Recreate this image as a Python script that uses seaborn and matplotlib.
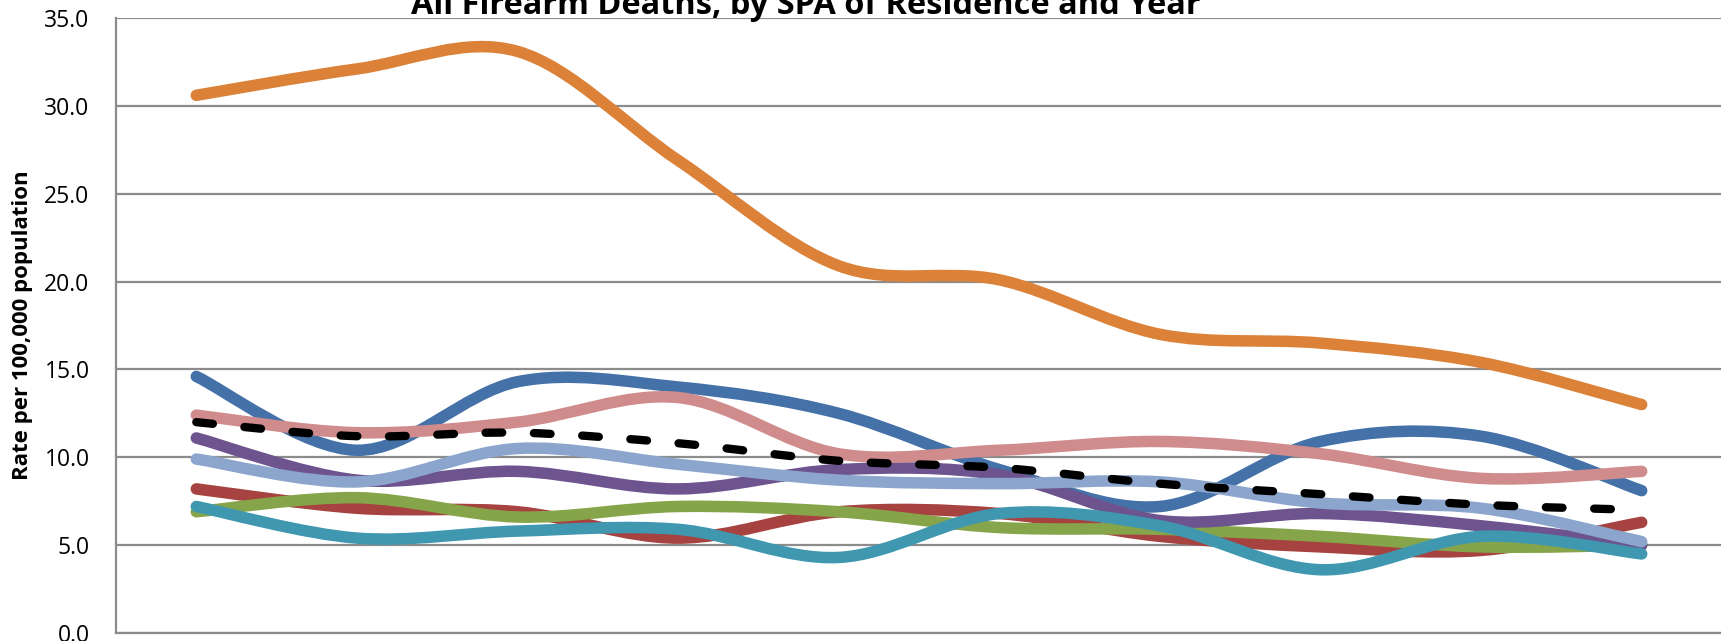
"""
plot.py - All firearm deaths by SPA of residence and year (smoothed Excel-style lines).
"""

import numpy as np
import pandas as pd
import matplotlib
matplotlib.use("Agg")
import matplotlib.pyplot as plt
from matplotlib.path import Path
from matplotlib.patches import PathPatch
import seaborn as sns

# --- data (rate per 100,000 population) ---
years = [2001, 2002, 2003, 2004, 2005, 2006, 2007, 2008, 2009, 2010]
spa1_antelope = [14.6, 10.4, 14.3, 14.0, 12.5, 9.3, 7.2, 10.9, 11.2, 8.1]
spa2_sanfernando = [8.2, 7.1, 6.9, 5.4, 6.9, 6.8, 5.5, 4.9, 4.7, 6.3]
spa3_sangabriel = [6.9, 7.7, 6.6, 7.2, 6.9, 6.0, 5.9, 5.5, 4.9, 5.0]
spa4_metro = [11.1, 8.7, 9.2, 8.2, 9.3, 9.0, 6.4, 6.8, 6.1, 5.0]
spa5_west = [7.2, 5.4, 5.8, 5.9, 4.3, 6.8, 6.1, 3.6, 5.5, 4.5]
spa6_south = [30.6, 32.1, 33.1, 26.9, 20.9, 20.1, 17.0, 16.5, 15.4, 13.0]
spa7_east = [9.9, 8.6, 10.5, 9.6, 8.7, 8.5, 8.6, 7.4, 7.1, 5.2]
spa8_southbay = [12.4, 11.4, 12.0, 13.4, 10.2, 10.4, 10.9, 10.2, 8.8, 9.2]
la_county = [12.0, 11.2, 11.4, 10.8, 9.8, 9.4, 8.5, 7.9, 7.3, 7.0]

series_names = ["SPA 1", "SPA 2", "SPA 3", "SPA 4", "SPA 5",
                "SPA 6", "SPA 7", "SPA 8", "LA County"]
series_values = [spa1_antelope, spa2_sanfernando, spa3_sangabriel, spa4_metro,
                 spa5_west, spa6_south, spa7_east, spa8_southbay, la_county]
colors = ["#4471A8", "#A6423F", "#86A54A", "#6D548E", "#3F97B0",
          "#DB8138", "#8CA5CC", "#D08C8C", "#000000"]

df = pd.DataFrame({name: vals for name, vals in zip(series_names, series_values)})
df["year"] = years
long_df = df.melt(id_vars="year", var_name="area", value_name="rate")


def smooth_path(xs, ys):
    # Excel-like smoothing: cubic Bezier segments with Catmull-Rom control points
    pts = np.column_stack([xs, ys]).astype(float)
    ext = np.vstack([pts[0], pts, pts[-1]])
    verts = [tuple(pts[0])]
    codes = [Path.MOVETO]
    for i in range(len(pts) - 1):
        p0, p1, p2, p3 = ext[i], ext[i + 1], ext[i + 2], ext[i + 3]
        c1 = p1 + (p2 - p0) / 6.0
        c2 = p2 - (p3 - p1) / 6.0
        verts += [tuple(c1), tuple(c2), tuple(p2)]
        codes += [Path.CURVE4] * 3
    return Path(verts, codes)


def fit_width(txt, target_px, renderer, vertical=False):
    # scale a text's font so that its drawn length matches the reference
    bb = txt.get_window_extent(renderer)
    cur = bb.height if vertical else bb.width
    txt.set_fontsize(txt.get_fontsize() * target_px / cur)


sns.set_theme(style="white")
plt.rcParams["font.family"] = ["Open Sans", "DejaVu Sans"]

W, H = 1721, 641
fig = plt.figure(figsize=(W / 100, H / 100), dpi=100)
ax = fig.add_axes([116 / W, 8 / H, 1606 / W, 615 / H])

grid_col = "#8C8C8C"
xpos = {y: i for i, y in enumerate(years)}

for name, col in zip(series_names, colors):
    sub = long_df[long_df["area"] == name]
    xs = sub["year"].map(xpos).to_numpy()
    ys = sub["rate"].to_numpy()
    if name == "LA County":
        patch = PathPatch(smooth_path(xs, ys), fill=False, edgecolor=col,
                          lw=6.0, linestyle=(0, (2.0, 3.8)), capstyle="round",
                          joinstyle="round", zorder=5)
    else:
        patch = PathPatch(smooth_path(xs, ys), fill=False, edgecolor=col,
                          lw=8.3, capstyle="round", joinstyle="round", zorder=3)
    ax.add_patch(patch)

ax.set_xlim(-0.5, len(years) - 0.5)
ax.set_ylim(0, 35)
ax.set_yticks(np.arange(0, 35.1, 5))
ax.set_yticklabels([f"{v:.1f}" for v in np.arange(0, 35.1, 5)])
ax.set_xticks(np.arange(-0.5, len(years), 1.0))
ax.set_xticklabels([])
ax.yaxis.grid(True, color=grid_col, lw=1.6)
ax.set_axisbelow(True)

sns.despine(ax=ax, top=True, right=True)
for side in ["left", "bottom"]:
    ax.spines[side].set_color(grid_col)
    ax.spines[side].set_linewidth(1.6)

ax.tick_params(axis="y", length=0, pad=19, labelsize=16.5, labelcolor="black")
ax.tick_params(axis="x", direction="out", length=10, width=1.6, color=grid_col)

title = fig.text(806 / W, 1 - 14 / H, "All Firearm Deaths, by SPA of Residence and Year",
                 ha="center", va="baseline", fontsize=23, fontweight="bold", color="black")
ylab = fig.text(23 / W, 1 - 325 / H, "Rate per 100,000 population", rotation=90,
                ha="center", va="center", fontsize=16, fontweight="bold", color="black")

renderer = fig.canvas.get_renderer()
fit_width(title, 791, renderer)
fit_width(ylab, 310, renderer, vertical=True)

fig.savefig("out.png", dpi=100)
